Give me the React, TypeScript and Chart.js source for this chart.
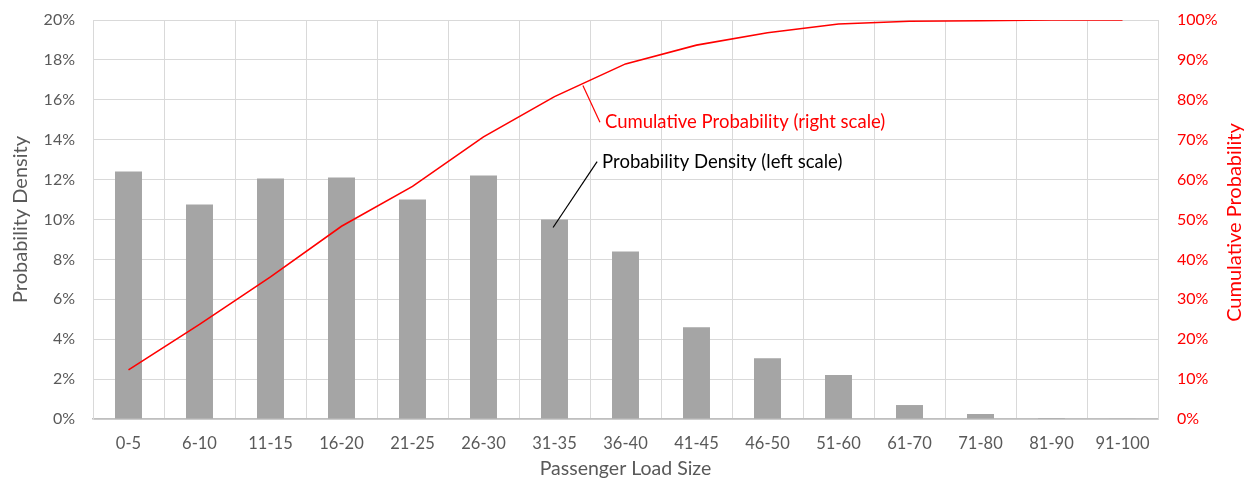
import React, { useEffect, useRef } from "react";
import { Chart, registerables } from "chart.js";

Chart.register(...registerables);

const categories = ["0-5", "6-10", "11-15", "16-20", "21-25", "26-30", "31-35", "36-40", "41-45", "46-50", "51-60", "61-70", "71-80", "81-90", "91-100"];
const densityPct = [12.4, 10.75, 12.05, 12.1, 11.0, 12.2, 10.0, 8.4, 4.6, 3.05, 2.2, 0.7, 0.25, 0.05, 0.03];
const cumulativePct = [12.3, 23.7, 35.6, 48.3, 58.3, 70.7, 80.8, 89.0, 93.7, 96.8, 99.0, 99.7, 99.8, 100, 100];

const leftAxisMax = 20;
const leftAxisStep = 2;
const rightAxisMax = 100;
const rightAxisStep = 10;

const xAxisTitle = "Passenger Load Size";
const leftAxisTitle = "Probability Density";
const rightAxisTitle = "Cumulative Probability";
const cumulativeLabel = "Cumulative Probability (right scale)";
const densityLabel = "Probability Density (left scale)";

const FONT = "Lato, 'Open Sans', sans-serif";
const GREY_TEXT = "#595959";
const RED = "#ff0000";

// annotation anchors expressed in data coordinates (category index, axis value)
const cumulativeCallout = { from: [6.4, 83.6], to: [6.64, 74.4] };
const densityCallout = { from: [5.98, 9.6], to: [6.6, 12.9] };

const annotationPlugin = {
  id: "calloutsAndRightTitle",
  afterDatasetsDraw(chart: any) {
    const { ctx, scales, chartArea } = chart;
    const x = scales.x;
    const yL = scales.y;
    const yR = scales.y1;
    ctx.save();
    // red callout
    ctx.strokeStyle = RED;
    ctx.lineWidth = 1.2;
    ctx.beginPath();
    ctx.moveTo(x.getPixelForValue(cumulativeCallout.from[0]), yR.getPixelForValue(cumulativeCallout.from[1]));
    const rx = x.getPixelForValue(cumulativeCallout.to[0]);
    const ry = yR.getPixelForValue(cumulativeCallout.to[1]);
    ctx.lineTo(rx, ry);
    ctx.stroke();
    ctx.font = `18.5px ${FONT}`;
    ctx.textBaseline = "middle";
    ctx.textAlign = "left";
    ctx.fillStyle = RED;
    ctx.fillText(cumulativeLabel, rx + 5, ry);
    // black callout
    ctx.strokeStyle = "#000000";
    ctx.beginPath();
    ctx.moveTo(x.getPixelForValue(densityCallout.from[0]), yL.getPixelForValue(densityCallout.from[1]));
    const bx = x.getPixelForValue(densityCallout.to[0]);
    const by = yL.getPixelForValue(densityCallout.to[1]);
    ctx.lineTo(bx, by);
    ctx.stroke();
    ctx.fillStyle = "#000000";
    ctx.fillText(densityLabel, bx + 5, by);
    // right axis title, reading bottom to top
    ctx.translate(chart.width - 11, (chartArea.top + chartArea.bottom) / 2 + 3);
    ctx.rotate(-Math.PI / 2);
    ctx.textAlign = "center";
    ctx.font = `20px ${FONT}`;
    ctx.fillStyle = RED;
    ctx.fillText(rightAxisTitle, 0, 0);
    ctx.restore();
  },
};

export default function App() {
  const canvasRef = useRef<HTMLCanvasElement | null>(null);

  useEffect(() => {
    document.body.style.margin = "0";
    const canvas = canvasRef.current;
    if (!canvas) return;
    const chart = new Chart(canvas, {
      type: "bar",
      data: {
        labels: categories,
        datasets: [
          {
            type: "line",
            label: "Cumulative Probability",
            data: cumulativePct,
            yAxisID: "y1",
            borderColor: RED,
            borderWidth: 1.6,
            pointRadius: 0,
            tension: 0,
            fill: false,
            order: 0,
          } as any,
          {
            type: "bar",
            label: "Probability Density",
            data: densityPct,
            yAxisID: "y",
            backgroundColor: "#a5a5a5",
            barPercentage: 0.38,
            categoryPercentage: 1,
            order: 1,
          },
        ],
      },
      options: {
        responsive: false,
        animation: false,
        layout: { padding: { top: 20, left: 0, right: 0, bottom: 0 } },
        plugins: {
          legend: { display: false },
          tooltip: { enabled: false },
        },
        scales: {
          x: {
            offset: true,
            grid: { color: "#d9d9d9", drawTicks: false, offset: true },
            border: { color: "#bfbfbf", width: 1.5 },
            ticks: { color: GREY_TEXT, font: { family: FONT, size: 16.5 }, padding: 15, maxRotation: 0, autoSkip: false },
            title: { display: true, text: xAxisTitle, color: GREY_TEXT, font: { family: FONT, size: 19.5, lineHeight: 1 }, padding: { top: 0, bottom: 0 } },
            afterFit: (s: any) => { s.height = 59; },
          },
          y: {
            position: "left",
            min: 0,
            max: leftAxisMax,
            grid: { color: "#d9d9d9", drawTicks: false },
            border: { color: "#d9d9d9" },
            ticks: {
              stepSize: leftAxisStep,
              color: GREY_TEXT,
              font: { family: FONT, size: 16 },
              padding: 18,
              callback: (v: any) => `${v}%`,
            },
            title: { display: true, text: leftAxisTitle, color: GREY_TEXT, font: { family: FONT, size: 20, lineHeight: 1 }, padding: { top: 11, bottom: 0 } },
            afterFit: (s: any) => { s.width = 93; s.paddingTop = 0; s.paddingBottom = 0; },
          },
          y1: {
            position: "right",
            min: 0,
            max: rightAxisMax,
            grid: { drawOnChartArea: false, drawTicks: false },
            border: { color: "#d9d9d9" },
            ticks: {
              stepSize: rightAxisStep,
              color: RED,
              font: { family: FONT, size: 16 },
              padding: 19,
              callback: (v: any) => `${v}%`,
            },
            afterFit: (s: any) => { s.width = 88; s.paddingTop = 0; s.paddingBottom = 0; },
          },
        },
      },
      plugins: [annotationPlugin],
    });
    return () => chart.destroy();
  }, []);

  return (
    <div style={{ width: 1246, height: 478 }}>
      <canvas ref={canvasRef} width={1246} height={478} />
    </div>
  );
}
